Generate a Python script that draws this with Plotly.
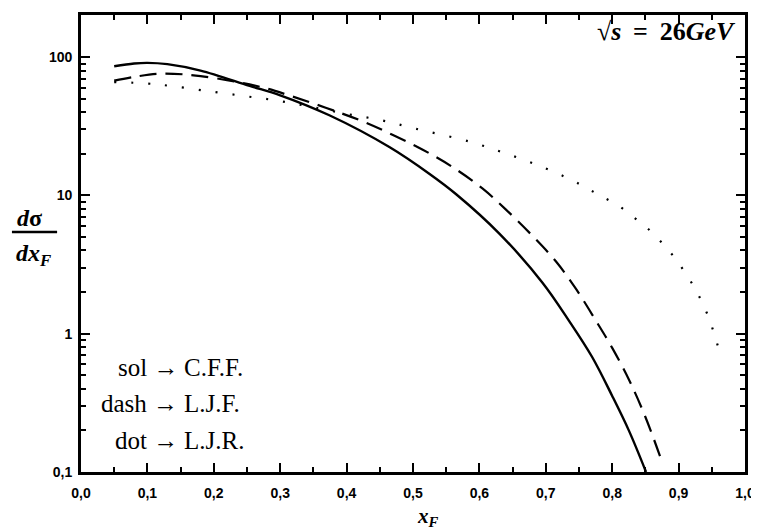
import plotly.graph_objects as go

# ---- data ----
sol_x = [0.05, 0.08, 0.10, 0.13, 0.18, 0.254, 0.30, 0.374, 0.465, 0.525, 0.565, 0.63, 0.695, 0.735, 0.77, 0.80, 0.825, 0.851]
sol_y = [86, 90, 91, 89, 80, 62, 53, 38, 22.3, 14.3, 10.2, 5.3, 2.34, 1.24, 0.676, 0.355, 0.2, 0.1]

dash_x = [0.05, 0.08, 0.12, 0.18, 0.27, 0.314, 0.42, 0.469, 0.514, 0.56, 0.605, 0.64, 0.68, 0.716, 0.746, 0.776, 0.80, 0.826, 0.85, 0.872]
dash_y = [67.6, 72, 76, 73, 61, 52.8, 35, 27.5, 21.5, 16, 11.2, 7.9, 5.1, 3.3, 2.09, 1.23, 0.79, 0.457, 0.25, 0.13]

dot_x = [0.05, 0.10, 0.134, 0.184, 0.24, 0.292, 0.344, 0.40, 0.452, 0.505, 0.585, 0.635, 0.687, 0.738, 0.763, 0.785, 0.81, 0.833, 0.853, 0.873, 0.89, 0.907, 0.923, 0.935, 0.945, 0.953, 0.961]
dot_y = [66, 64.5, 62, 57.5, 52.8, 48.8, 44, 38.9, 35, 30.3, 24.5, 20.5, 16.6, 13, 11.2, 9.8, 8.4, 6.9, 5.8, 4.65, 3.75, 2.9, 2.19, 1.70, 1.32, 1.02, 0.76]

x_ticks = [0.0, 0.1, 0.2, 0.3, 0.4, 0.5, 0.6, 0.7, 0.8, 0.9, 1.0]
x_ticktext = ["0,0", "0,1", "0,2", "0,3", "0,4", "0,5", "0,6", "0,7", "0,8", "0,9", "1,0"]
x_minor = [0.05, 0.15, 0.25, 0.35, 0.45, 0.55, 0.65, 0.75, 0.85, 0.95]
y_ticks = [0.1, 1, 10, 100]
y_ticktext = ["0,1", "1", "10", "100"]
y_minor = [m * d for d in (0.1, 1, 10) for m in range(2, 10)]

legend_left = ["sol \u2192", "dash \u2192", "dot \u2192"]
legend_right = ["C.F.F.", "L.J.F.", "L.J.R."]

fig = go.Figure()
fig.add_trace(go.Scatter(x=sol_x, y=sol_y, mode="lines", line=dict(color="black", width=2.4, shape="spline")))
fig.add_trace(go.Scatter(x=dash_x, y=dash_y, mode="lines", line=dict(color="black", width=2.2, dash="17px,9px", shape="spline")))
fig.add_trace(go.Scatter(x=dot_x, y=dot_y, mode="lines", line=dict(color="black", width=2.2, dash="2px,15px", shape="spline")))

tickfont = dict(family="Liberation Sans, Arial", size=14, color="black", weight="bold")
serif = "Liberation Serif, Times New Roman, serif"

# the page adds an 8px body margin, so the figure is sized/placed to compensate
fig.update_layout(
    width=751, height=521,
    margin=dict(l=73, r=14, t=7, b=57),
    paper_bgcolor="white", plot_bgcolor="white",
    showlegend=False,
    xaxis=dict(
        range=[0, 1], tickvals=x_ticks, ticktext=x_ticktext,
        ticks="inside", ticklen=9, tickwidth=2, tickcolor="black",
        minor=dict(tickvals=x_minor, ticks="inside", ticklen=5, tickwidth=2, tickcolor="black"),
        showline=True, linecolor="black", linewidth=2.8, mirror="allticks",
        showgrid=False, zeroline=False, tickfont=tickfont, ticklabelstandoff=6,
        automargin=False,
    ),
    yaxis=dict(
        type="log", range=[-1, 2.305], tickvals=y_ticks, ticktext=y_ticktext,
        ticks="inside", ticklen=9, tickwidth=2, tickcolor="black",
        minor=dict(tickvals=y_minor, ticks="inside", ticklen=5, tickwidth=2, tickcolor="black"),
        showline=True, linecolor="black", linewidth=2.8, mirror="allticks",
        showgrid=False, zeroline=False, tickfont=tickfont, ticklabelstandoff=3,
        automargin=False,
    ),
)

annotations = []
# x-axis title
annotations.append(dict(x=0.523, y=-0.098, xref="paper", yref="paper", text="<b><i>x<sub>F</sub></i></b>",
                        showarrow=False, font=dict(family=serif, size=21, color="black"),
                        xanchor="center", yanchor="middle"))
# y-axis title as a fraction
annotations.append(dict(x=-0.077, y=0.556, xref="paper", yref="paper", text="<b><i>d</i>\u03c3</b>",
                        showarrow=False, font=dict(family=serif, size=24, color="black"),
                        xanchor="center", yanchor="middle"))
annotations.append(dict(x=-0.072, y=0.474, xref="paper", yref="paper", text="<b><i>dx<sub>F</sub></i></b>",
                        showarrow=False, font=dict(family=serif, size=24, color="black"),
                        xanchor="center", yanchor="middle"))
# energy label
annotations.append(dict(x=0.989, y=0.963, xref="paper", yref="paper",
                        text="<b>\u221a<i>s</i>\u2009\u00a0=\u00a0\u200926<i>GeV</i></b>",
                        showarrow=False, font=dict(family=serif, size=26, color="black"),
                        xanchor="right", yanchor="middle"))
# legend-like labels
legend_y = [0.228, 0.149, 0.070]
for ly, lt, rt in zip(legend_y, legend_left, legend_right):
    annotations.append(dict(x=0.149, y=ly, xref="paper", yref="paper", text=lt, showarrow=False,
                            font=dict(family=serif, size=25, color="black"), xanchor="right", yanchor="middle"))
    annotations.append(dict(x=0.152, y=ly, xref="paper", yref="paper", text=rt, showarrow=False,
                            font=dict(family=serif, size=25, color="black"), xanchor="left", yanchor="middle"))
fig.update_layout(annotations=annotations)

# fraction bar for the y title
fig.add_shape(type="line", xref="paper", yref="paper", x0=-0.104, x1=-0.036, y0=0.525, y1=0.525,
              line=dict(color="black", width=2.5))

fig.write_html("out.html")
